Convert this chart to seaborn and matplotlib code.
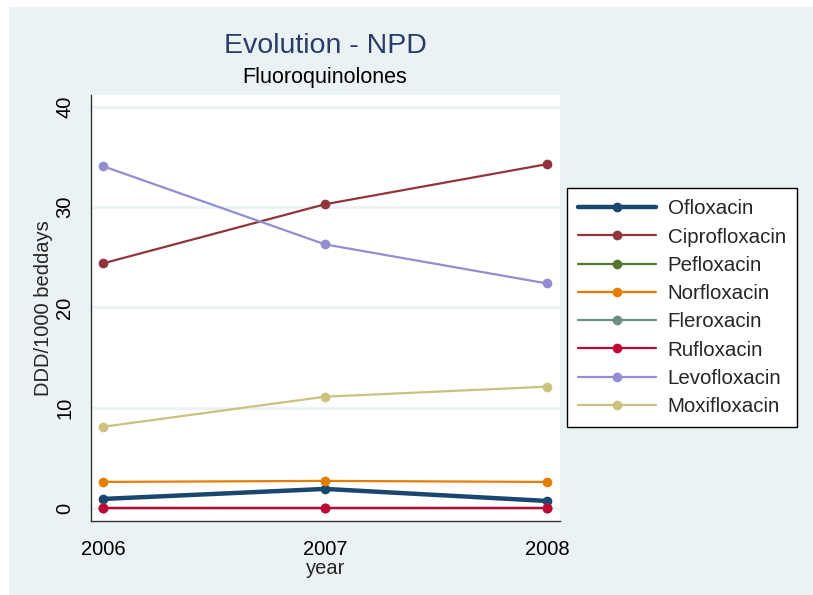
import matplotlib
matplotlib.use("Agg")
import matplotlib.pyplot as plt
import seaborn as sns
from matplotlib.patches import Rectangle

# ---------------------------------------------------------------
# DATA  (DDD / 1000 beddays)
# ---------------------------------------------------------------
years = [2006, 2007, 2008]
drugs = ["Ofloxacin", "Ciprofloxacin", "Pefloxacin", "Norfloxacin",
         "Fleroxacin", "Rufloxacin", "Levofloxacin", "Moxifloxacin"]

ofloxacin     = [0.9, 1.9, 0.7]
ciprofloxacin = [24.4, 30.3, 34.3]
pefloxacin    = [0.0, 0.0, 0.0]
norfloxacin   = [2.6, 2.7, 2.6]
fleroxacin    = [0.0, 0.0, 0.0]
rufloxacin    = [0.0, 0.0, 0.0]
levofloxacin  = [34.1, 26.3, 22.4]
moxifloxacin  = [8.1, 11.1, 12.1]

series = [ofloxacin, ciprofloxacin, pefloxacin, norfloxacin,
          fleroxacin, rufloxacin, levofloxacin, moxifloxacin]

y_ticks = [0, 10, 20, 30, 40]

# Stata s2color palette
COLORS = ["#1a476f", "#90353b", "#55752f", "#e37e00",
          "#6e8e84", "#c10534", "#938dd2", "#cac27e"]
BG = "#eaf2f3"

sns.set_theme(style="white")
plt.rcParams["font.family"] = ["Liberation Sans", "DejaVu Sans"]

fig = plt.figure(figsize=(8.13, 5.95), dpi=100)
fig.patch.set_facecolor("white")
fig.patches.append(Rectangle((9 / 813, -0.01), 1, 1.01 - 7 / 595,
                             transform=fig.transFigure,
                             facecolor=BG, edgecolor="none", zorder=-10))

ax = fig.add_axes([91 / 813, 74 / 595, 469 / 813, 426 / 595])
ax.set_facecolor("white")

for name, vals, col in zip(drugs, series, COLORS):
    lw = 3.2 if name == "Ofloxacin" else 1.6
    sns.lineplot(x=years, y=vals, ax=ax, color=col, linewidth=lw,
                 marker="o", markersize=7, markeredgewidth=0,
                 label=name, legend=False)

ax.set_xlim(2005.946, 2008.059)
ax.set_ylim(-1.3, 41.2)
ax.set_xticks(years)
ax.set_yticks(y_ticks)
ax.set_yticklabels([str(t) for t in y_ticks], rotation=90, va="center")
for y in y_ticks:
    ax.axhline(y, color=BG, linewidth=2, zorder=0)

for s in ["top", "right"]:
    ax.spines[s].set_visible(False)
for s in ["left", "bottom"]:
    ax.spines[s].set_color("#333333")
    ax.spines[s].set_linewidth(1)

ax.tick_params(axis="both", direction="out", length=6, width=1,
               color="#333333", labelsize=14.5, labelcolor="black")
ax.tick_params(axis="y", pad=6)
ax.tick_params(axis="x", pad=8)

ax.set_xlabel("year", fontsize=14.5, labelpad=0)
ax.set_ylabel("DDD/1000 beddays", fontsize=14.5, labelpad=2)

fig.text(325 / 813, 1 - 46 / 595, "Evolution - NPD", ha="center", va="center",
         fontsize=20.5, color="#2b3c6b")
fig.text(325 / 813, 1 - 77 / 595, "Fluoroquinolones", ha="center", va="center",
         fontsize=15.5, color="black")

handles, labels = ax.get_legend_handles_labels()
leg = fig.legend(handles, labels, loc="upper left",
                 bbox_to_anchor=(567 / 813, 1 - 188 / 595),
                 fontsize=14.8, frameon=True, fancybox=False,
                 edgecolor="black", framealpha=1, borderaxespad=0,
                 handlelength=3.8, handletextpad=0.55, labelspacing=0.45,
                 borderpad=0.55, numpoints=1)
leg.get_frame().set_linewidth(1)

fig.savefig("out.png", dpi=100)
